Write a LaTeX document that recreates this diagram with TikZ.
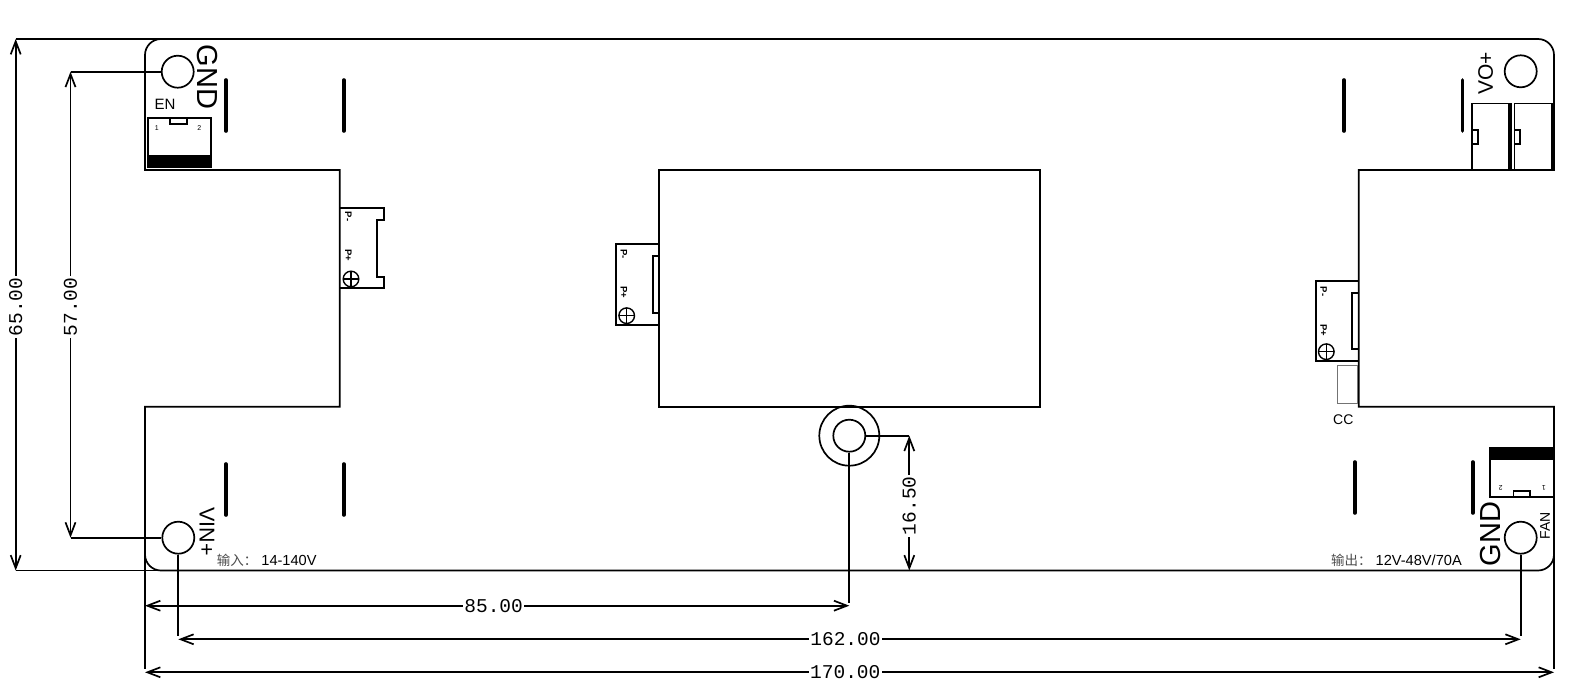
\documentclass[tikz,border=0pt]{standalone}
\usepackage{fontspec}
\setmainfont{Liberation Sans}
\newfontfamily\dimfont{Liberation Mono}
\newfontfamily\cjkfont{Noto Sans CJK SC}
\usetikzlibrary{arrows.meta}
\newcommand{\fsize}[1]{\fontsize{#1}{#1}\selectfont}
\tikzset{
    board/.style={line width=1.7pt},
    partline/.style={line width=2pt},
    slotbar/.style={line width=3.6pt,line cap=round},
    hole/.style={draw,circle,line width=1.7pt,minimum size=32pt,inner sep=0pt},
    leader/.style={line width=1.7pt},
    dimline/.style={line width=1.7pt,{Straight Barb[length=13pt,width=10pt]}-{Straight Barb[length=13pt,width=10pt]}},
    dimlabel/.style={fill=white,inner sep=1.5pt,font=\dimfont\fsize{19.5}},
    plain/.style={inner sep=0pt},
    pinlabel/.style={inner sep=0pt,rotate=-90,font=\bfseries\fsize{9.5}}
}
\begin{document}
\begin{tikzpicture}[x=1pt,y=-1pt]
    \useasboundingbox (0,0) rectangle (1577,696);
    \draw[board] (145,170) [rounded corners=16pt] -- (145,39) -- (1554,39) [sharp corners] -- (1554,170) -- (1358.7,170) -- (1358.7,406.7) -- (1554,406.7) [rounded corners=16pt] -- (1554,570.5) -- (145,570.5) [sharp corners] -- (145,406.7) -- (339.7,406.7) -- (339.7,170) -- cycle;
    \draw[board] (659,170) rectangle (1040,406.7);

    \foreach \x/\y in {226/80,343.7/80,1344/80,1462.3/80,226/464,343.7/464,1354.7/462,1472.7/462}
        \draw[slotbar] (\x,\y) -- (\x,\y+51);

    \node[hole] (gndhole) at (177.7,71.7) {};
    \node[hole] (vinhole) at (178.3,537.7) {};
    \node[hole] (vohole) at (1520.7,71.3) {};
    \node[hole] (fanhole) at (1520.7,537.7) {};
    \node[hole,minimum size=60pt] (mountouter) at (849.3,435.7) {};
    \node[hole] (mounthole) at (849.3,435.7) {};

    \node[plain,rotate=-90,font=\fsize{29}] (gndtext) at (207,77) {GND};
    \node[plain,rotate=90,font=\fsize{21}] (votext) at (1485.7,73.5) {VO+};
    \node[plain,rotate=-90,font=\fsize{21.5}] (vintext) at (207,531.5) {VIN+};
    \node[plain,rotate=90,font=\fsize{29}] (gndtexttwo) at (1490.7,534) {GND};
    \node[plain,rotate=90,font=\fsize{14}] (fantext) at (1545,526) {FAN};
    \node[plain,font=\fsize{15}] (entext) at (165,104.5) {EN};
    \node[plain,font=\fsize{14}] (cctext) at (1343.3,419.5) {CC};
    \node[plain,anchor=west,font=\fsize{14.6}] (intext) at (216.7,560) {{\cjkfont\fsize{13.5}\color{black!70}输入：}\hspace{4pt}14-140V};
    \node[plain,anchor=west,font=\fsize{14.6}] (outtext) at (1331,560) {{\cjkfont\fsize{13.5}\color{black!70}输出：}\hspace{4pt}12V-48V/70A};

    \draw[partline] (147.7,117.7) rectangle (210.7,167.3);
    \fill (147.7,155) rectangle (210.7,167.3);
    \draw[line width=1.2pt] (170,117.7) rectangle (187,124);
    \node[plain,font=\fsize{7}] (enone) at (156.7,127.7) {1};
    \node[plain,font=\fsize{7}] (entwo) at (199.3,127.7) {2};

    \draw[partline] (1490,447.7) rectangle (1554,497);
    \fill (1490,447.7) rectangle (1554,460);
    \draw[line width=1.2pt] (1513.3,491) rectangle (1530,497);
    \node[plain,rotate=180,font=\fsize{7}] (fantwo) at (1500.7,487.7) {2};
    \node[plain,rotate=180,font=\fsize{7}] (fanone) at (1544,487.7) {1};

    \draw[line width=1.5pt] (1472,103.3) rectangle (1511.7,170.7);
    \draw[line width=1.5pt] (1514.3,103.3) rectangle (1554,170.7);
    \fill (1508.4,103.3) rectangle (1511.7,170.7);
    \fill (1550.7,103.3) rectangle (1554,170.7);
    \draw[line width=1.2pt] (1472,130) rectangle (1478,144);
    \draw[line width=1.2pt] (1514.3,130) rectangle (1520,144);

    \draw[partline] (339.7,208) -- (383.5,208) -- (383.5,219.5) -- (377,219.5) -- (377,277) -- (383.5,277) -- (383.5,288) -- (339.7,288);
    \draw[partline] (659,244) -- (616,244) -- (616,325) -- (659,325);
    \draw[partline] (659,255.7) -- (652.7,255.7) -- (652.7,313.3) -- (659,313.3);
    \draw[partline] (1358.7,280.7) -- (1315.7,280.7) -- (1315.7,361) -- (1358.7,361);
    \draw[partline] (1358.7,292.7) -- (1352.3,292.7) -- (1352.3,349.3) -- (1358.7,349.3);
    \foreach \x/\y in {348.3/216.7,624/254,1323.7/291.7}{
        \node[pinlabel] at (\x,\y) {P-};
        \node[pinlabel] at (\x,\y+38.3) {P+};
    }
    \foreach \x/\y in {351/279,626.7/315.7,1326.3/351.7}{
        \draw[line width=1.4pt] (\x,\y) circle (7.8pt);
        \draw[line width=1.4pt] (\x-7.8,\y) -- (\x+7.8,\y);
        \draw[line width=1.4pt] (\x,\y-7.8) -- (\x,\y+7.8);
    }
    \draw[black!55,line width=1pt] (1337,365.7) rectangle (1357.3,403.3);

    \coordinate (widetop) at (15.7,39);
    \coordinate (widebot) at (15.7,570.5);
    \coordinate (pitchtop) at (70.5,71.7);
    \coordinate (pitchbot) at (70.5,537.7);
    \coordinate (mounttop) at (909.3,435.7);
    \coordinate (mountbot) at (909.3,570.5);
    \coordinate (midleft) at (145,605.7);
    \coordinate (midright) at (849.3,605.7);
    \coordinate (holeleft) at (178.3,639.3);
    \coordinate (holeright) at (1520.7,639.3);
    \coordinate (fullleft) at (145,672.3);
    \coordinate (fullright) at (1554,672.3);

    \draw[leader] (widetop) -- (161,39);
    \draw[leader] (widebot) -- (161,570.5);
    \draw[leader] (pitchtop) -- (gndhole.west);
    \draw[leader] (pitchbot) -- (vinhole.west);
    \draw[leader] (mounttop) -- (mounthole.east);
    \draw[leader] (145,554) -- ([yshift=3pt]fullleft);
    \draw[leader] (1554,554) -- ([yshift=3pt]fullright);
    \draw[leader] (vinhole.south) -- ([yshift=3pt]holeleft);
    \draw[leader] (fanhole.south) -- ([yshift=3pt]holeright);
    \draw[leader] (mounthole.south) -- ([yshift=3pt]midright);

    \draw[dimline] (widetop) -- node[dimlabel,rotate=90,pos=.504] (widedim) {65.00} (widebot);
    \draw[dimline] (pitchtop) -- node[dimlabel,rotate=90,pos=.505] (pitchdim) {57.00} (pitchbot);
    \draw[dimline] (mounttop) -- node[dimlabel,rotate=90,pos=.52] (mountdim) {16.50} (mountbot);
    \draw[dimline] (midleft) -- node[dimlabel,pos=.495] (middim) {85.00} (midright);
    \draw[dimline] (holeleft) -- node[dimlabel,pos=.497] (holedim) {162.00} (holeright);
    \draw[dimline] (fullleft) -- node[dimlabel,pos=.497] (fulldim) {170.00} (fullright);
\end{tikzpicture}
\end{document}
